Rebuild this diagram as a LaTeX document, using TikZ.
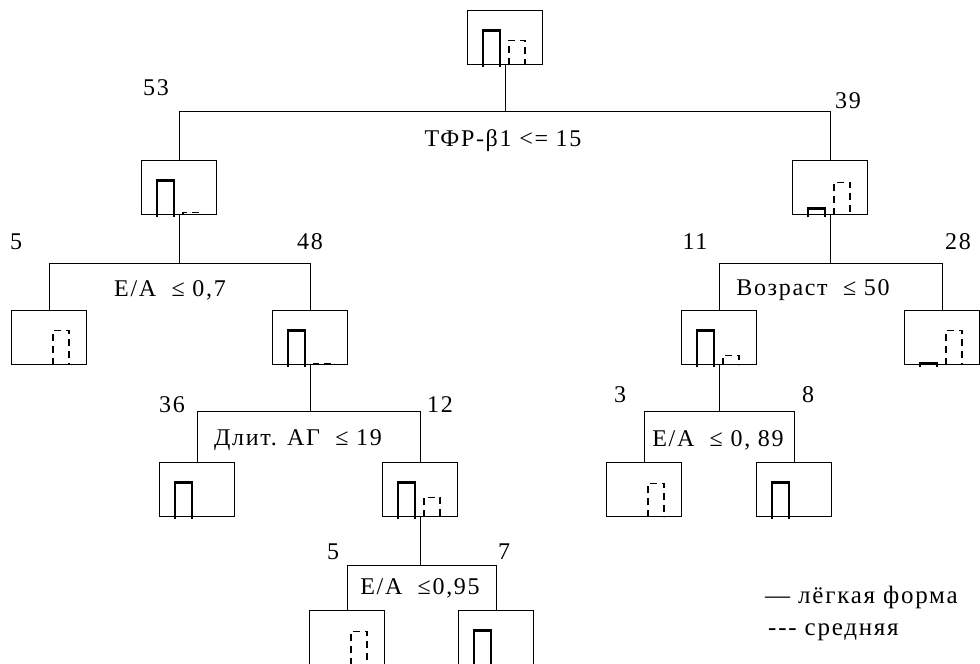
\documentclass[tikz,border=0pt]{standalone}
\usepackage{fontspec}
\setmainfont{Liberation Serif}[LetterSpace=7]
\begin{document}
\begin{tikzpicture}[x=1pt,y=-1pt,
  tbox/.style={draw, line width=1.4pt, minimum width=75pt, minimum height=54pt, inner sep=0pt, anchor=north west},
  sbar/.style={line width=2.6pt},
  dbar/.style={line width=1.4pt, dash pattern=on 7pt off 5pt},
  conn/.style={line width=1.4pt},
  lbl/.style={font=\fontsize{24}{27}\selectfont, inner sep=0pt},
  num/.style={lbl},
  leg/.style={font=\fontsize{25}{28}\selectfont, inner sep=0pt, anchor=west}]
\useasboundingbox (0,0) rectangle (980,664);
% boxes
\node[tbox] (root) at (467,10) {};
\node[tbox] (n53) at (141,160) {};
\node[tbox] (n39) at (792,160) {};
\node[tbox] (n5a) at (11,310) {};
\node[tbox] (n48) at (272,310) {};
\node[tbox] (n11) at (681,310) {};
\node[tbox] (n28) at (904,310) {};
\node[tbox] (n36) at (159,462) {};
\node[tbox] (n12) at (382,462) {};
\node[tbox] (n3) at (606,462) {};
\node[tbox] (n8) at (756,462) {};
\node[tbox] (n5b) at (309,610) {};
\node[tbox] (n7) at (458,610) {};
% split points
\path (root.south) ++(0,46) coordinate (s0);
\path (n53.south) ++(0,48) coordinate (s1);
\path (n39.south) ++(0,48) coordinate (s2);
\path (n48.south) ++(0,46) coordinate (s3);
\path (n11.south) ++(0,46) coordinate (s4);
\path (n12.south) ++(0,48) coordinate (s5);
% connectors
\draw[conn] (root.south) -- (s0);
\draw[conn] (s0) -| (n53.north);
\draw[conn] (s0) -| (n39.north);
\draw[conn] (n53.south) -- (s1);
\draw[conn] (s1) -| (n5a.north);
\draw[conn] (s1) -| (n48.north);
\draw[conn] (n39.south) -- (s2);
\draw[conn] (s2) -| (n11.north);
\draw[conn] (s2) -| (n28.north);
\draw[conn] (n48.south) -- (s3);
\draw[conn] (s3) -| (n36.north);
\draw[conn] (s3) -| (n12.north);
\draw[conn] (n11.south) -- (s4);
\draw[conn] (s4) -| (n3.north);
\draw[conn] (s4) -| (n8.north);
\draw[conn] (n12.south) -- (s5);
\draw[conn] (s5) -| (n5b.north);
\draw[conn] (s5) -| (n7.north);
% bars: solid at offset 16..33, dashed at 42..58
\newcommand\sbarat[2]{\draw[sbar, shift={(#1.south west)}] (16,2) -- (16,-#2) -- (33,-#2) -- (33,2);}
\newcommand\dbarat[2]{\draw[dbar, shift={(#1.south west)}] (42,0) -- (42,-#2) -- (58,-#2) -- (58,0);}
\sbarat{root}{35} \dbarat{root}{25}
\sbarat{n53}{35} \dbarat{n53}{3}
\sbarat{n39}{7} \dbarat{n39}{33}
\dbarat{n5a}{35}
\sbarat{n48}{35} \dbarat{n48}{2}
\sbarat{n11}{35} \dbarat{n11}{10}
\sbarat{n28}{2} \dbarat{n28}{35}
\sbarat{n36}{35}
\sbarat{n12}{35} \dbarat{n12}{20}
\dbarat{n3}{34}
\sbarat{n8}{35}
\dbarat{n5b}{34}
\sbarat{n7}{35}
% labels
\node[num] (t53) at (156,88) {53};
\node[num] (t39) at (848,101) {39};
\node[lbl] (c0) at (503,141) {ТФР-β1 <= 15};
\node[num] (t5a) at (16,242) {5};
\node[num] (t48) at (310,242) {48};
\node[lbl] (c1) at (170,290) {E/A\ \ ≤ 0,7};
\node[num] (t11) at (695,242) {11};
\node[num] (t28) at (958,242) {28};
\node[lbl] (c2) at (813,290) {Возраст\ \ ≤ 50};
\node[num] (t36) at (172,405) {36};
\node[num] (t12) at (440,405) {12};
\node[lbl] (c3) at (298,440) {Длит. АГ\ \ ≤ 19};
\node[num] (t3) at (620,395) {3};
\node[num] (t8) at (808,395) {8};
\node[lbl] (c4) at (718,440) {E/A\ \ ≤ 0, 89};
\node[num] (t5b) at (333,552) {5};
\node[num] (t7) at (504,552) {7};
\node[lbl] (c5) at (420,588) {E/A\ \ ≤0,95};
\node[leg] (lg1) at (765,597) {— лёгкая форма};
\node[leg] (lg2) at (768,632) {-{}-{}- средняя};
\end{tikzpicture}
\end{document}
